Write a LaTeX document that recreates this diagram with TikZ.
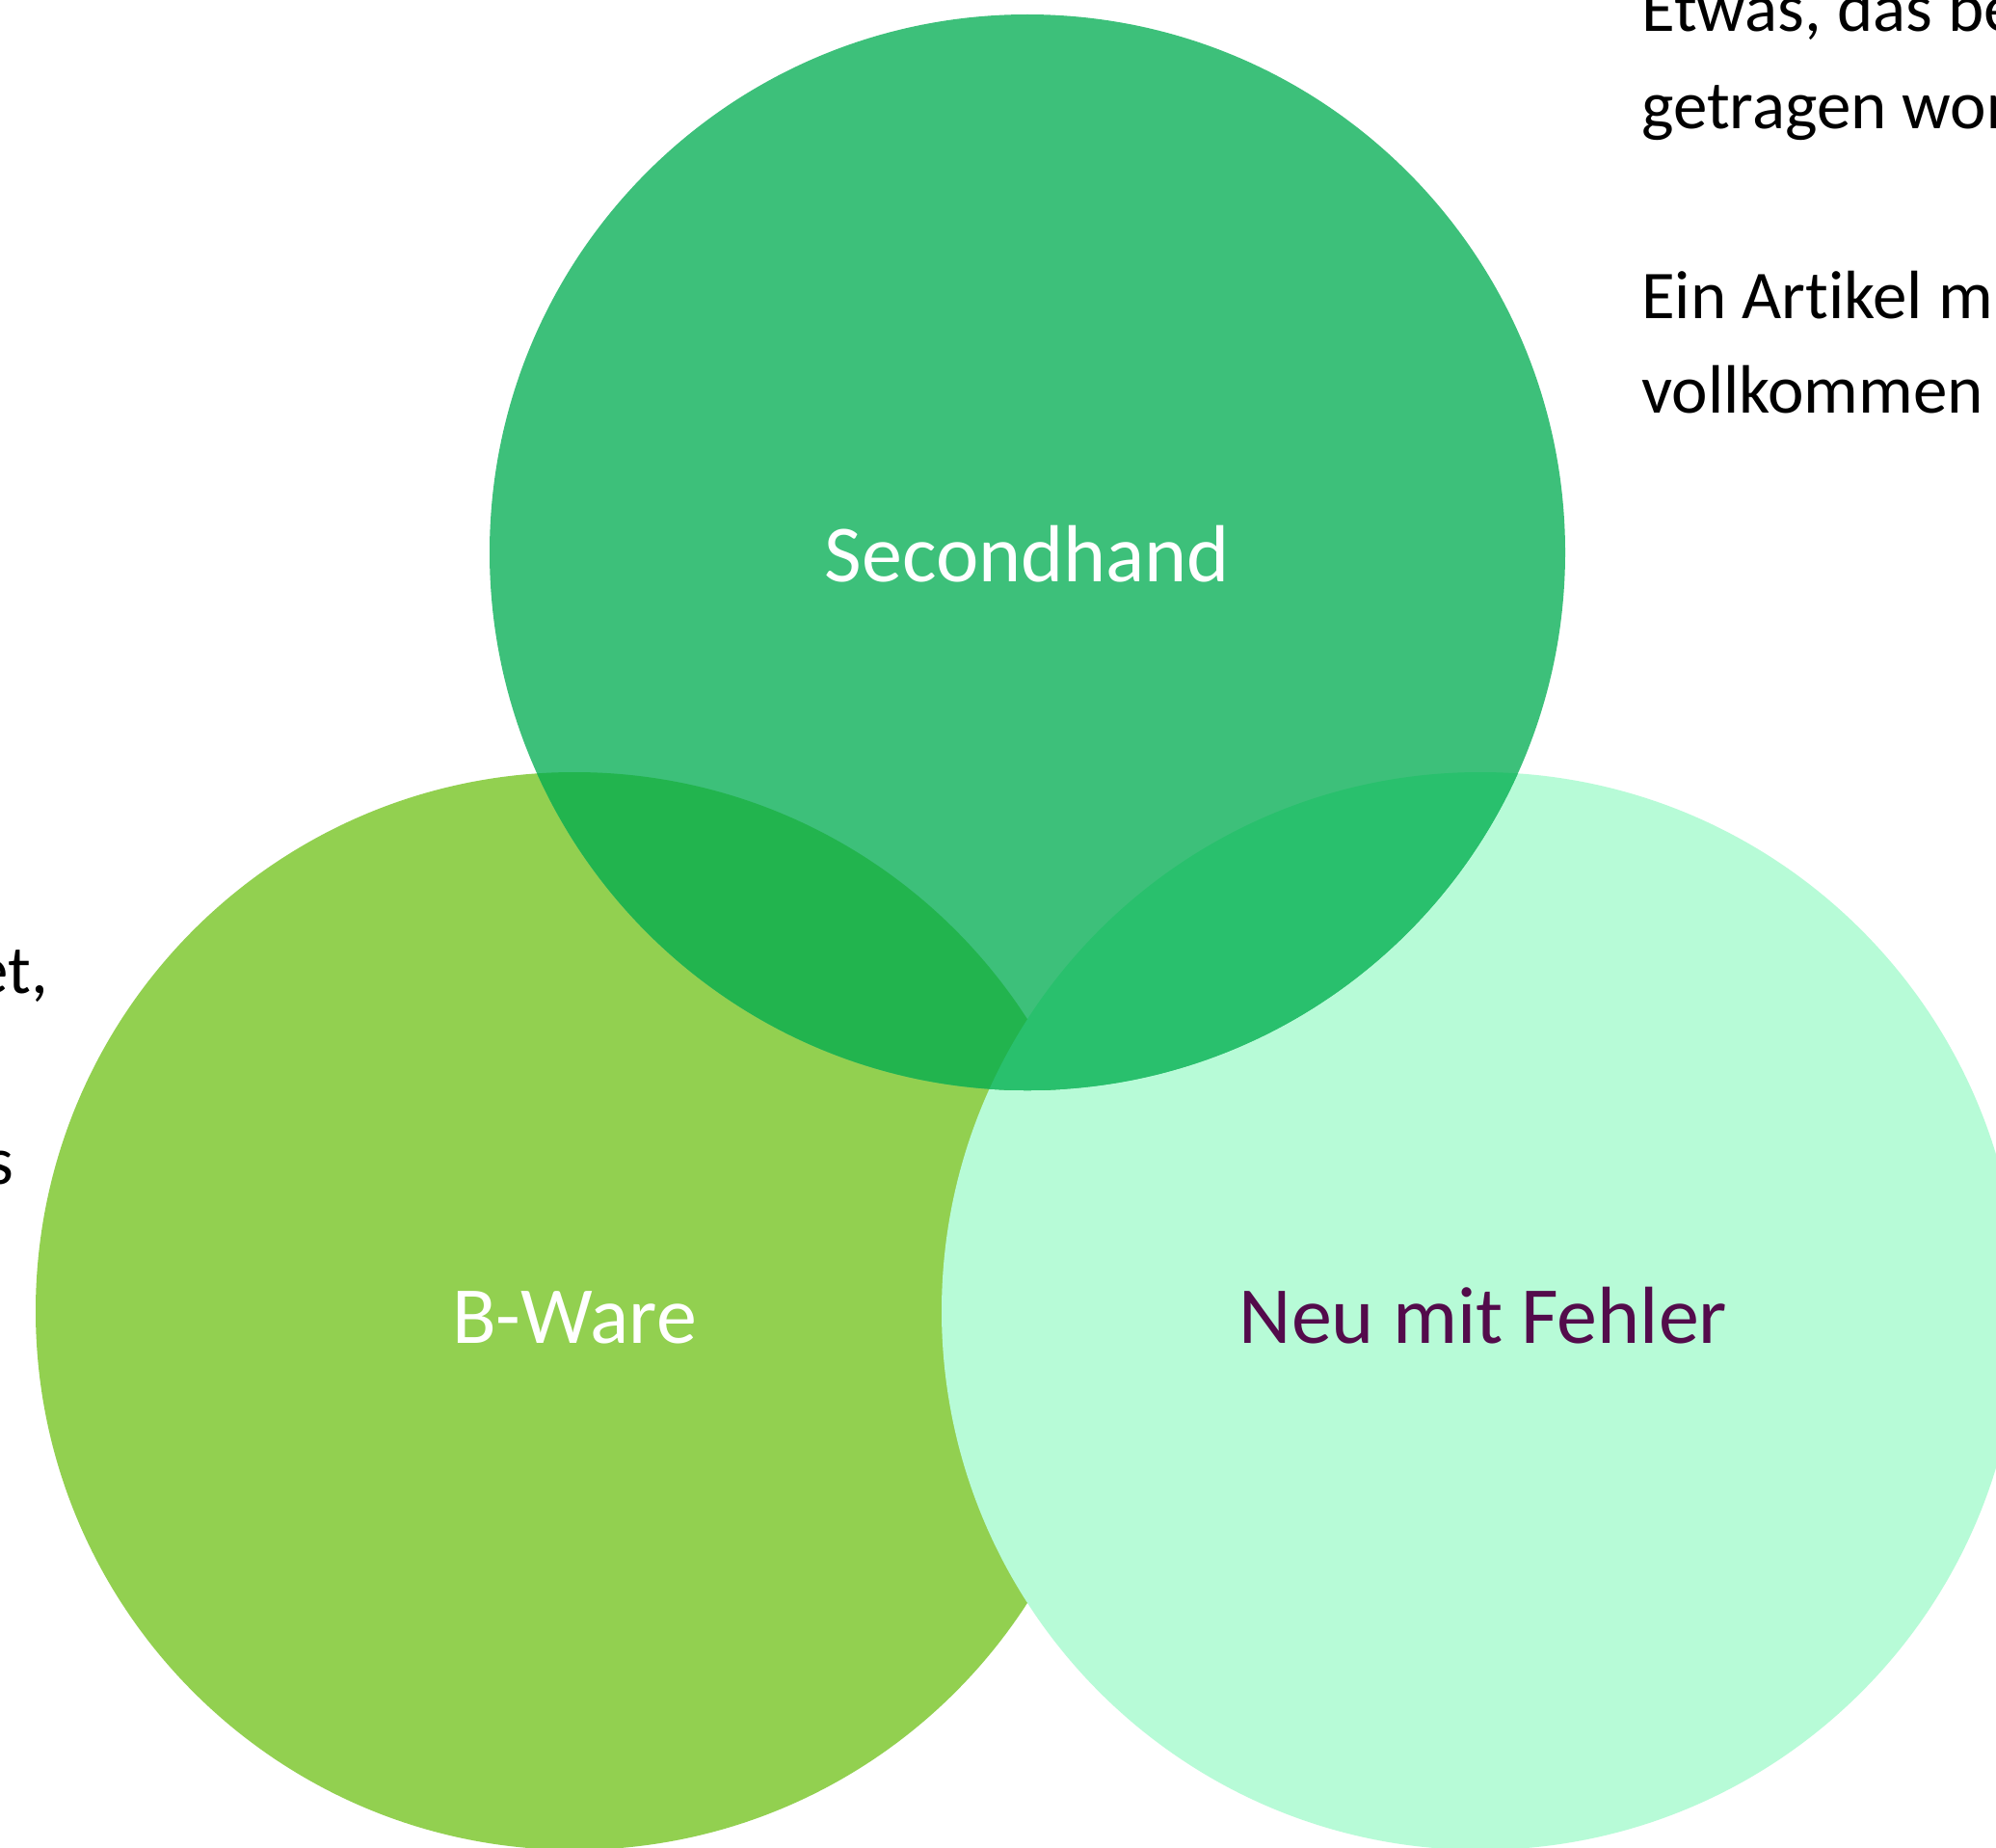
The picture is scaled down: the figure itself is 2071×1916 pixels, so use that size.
\documentclass[tikz,border=0pt]{standalone}
\usepackage{fontspec}
\setmainfont{Carlito}[Ligatures=NoCommon]
\definecolor{cSH}{HTML}{3DC07A}
\definecolor{cBW}{HTML}{92D050}
\definecolor{cNF}{HTML}{B7FBD7}
\definecolor{cSB}{HTML}{22B44E}
\definecolor{cSN}{HTML}{29C06D}
\definecolor{cPurple}{HTML}{530B4B}
\begin{document}
\begin{tikzpicture}[x=1pt,y=-1pt,
  lbl/.style={inner sep=0pt, anchor=base, font=\fontsize{84}{100}\selectfont},
  side/.style={inner sep=0pt, anchor=base west, font=\fontsize{71}{99}\selectfont}]
\useasboundingbox (0,0) rectangle (2071,1916);
\clip (0,0) rectangle (2071,1916);
\fill[white] (0,0) rectangle (2071,1916);
\coordinate (cS) at (1066,573);
\coordinate (cB) at (596,1360);
\coordinate (cN) at (1536,1360);
\fill[cBW] (cB) circle[radius=559pt];
\fill[cNF] (cN) circle[radius=559pt];
\fill[cSH] (cS) circle[radius=558pt];
\begin{scope}
  \clip (cS) circle[radius=558pt];
  \fill[cSB] (cB) circle[radius=559pt];
  \fill[cSN] (cN) circle[radius=559pt];
\end{scope}
\node[lbl, text=white] (sh) at (1066,603) {Secondhand};
\node[lbl, text=white] (bw) at (596,1393) {B-Ware};
\node[lbl, text=cPurple] (nf) at (1539,1393) {Neu mit Fehler};
\node[side] (r1) at (1703,33) {Etwas, das be};
\node[side] (r2) at (1703,133) {getragen wor};
\node[side] (r3) at (1703,330) {Ein Artikel m};
\node[side] (r4) at (1703,428) {vollkommen};
\node[side, anchor=base east] (l1) at (50,1030) {et,};
\node[side, anchor=base east] (l2) at (14,1228) {s};
\end{tikzpicture}
\end{document}
